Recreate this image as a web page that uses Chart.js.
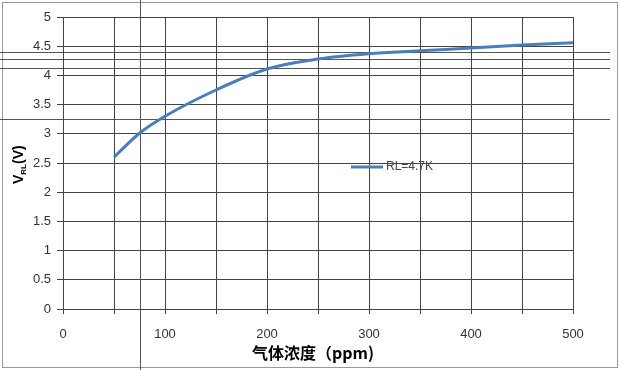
<!DOCTYPE html>
<html>
<head>
<meta charset="utf-8">
<script src="https://cdn.jsdelivr.net/npm/chart.js@4"></script>
<style>
  html, body { margin: 0; padding: 0; background: #fff; }
  #wrap { width: 620px; height: 370px; position: relative; }
</style>
</head>
<body>
<div id="wrap"><canvas id="chart" width="620" height="370"></canvas></div>
<script>
// gas concentration (ppm) vs output voltage
const concentration = [50, 75, 100, 150, 200, 250, 300, 350, 400, 450, 500];
const voltage = [2.6, 3.01, 3.3, 3.75, 4.11, 4.28, 4.37, 4.42, 4.47, 4.52, 4.56];
const seriesLabel = 'RL=4.7K';
const xTitle = '气体浓度（ppm)';

// stray scan lines (value space)
const strayH = [4.4, 4.28, 4.13, 3.25];
const strayV = [75];

const decorations = {
  id: 'decorations',
  beforeDraw(chart) {
    const { ctx, scales: { x, y } } = chart;
    ctx.save();
    ctx.fillStyle = '#fff';
    ctx.fillRect(0, 0, chart.width, chart.height);
    ctx.strokeStyle = '#999';
    ctx.lineWidth = 1;
    ctx.strokeRect(2.5, 2.5, chart.width - 5, chart.height - 5);
    ctx.strokeStyle = '#555';
    strayH.forEach(v => {
      const py = Math.round(y.getPixelForValue(v)) + 0.5;
      ctx.beginPath(); ctx.moveTo(0, py); ctx.lineTo(610, py); ctx.stroke();
    });
    strayV.forEach(v => {
      const px = Math.round(x.getPixelForValue(v)) + 0.5;
      ctx.beginPath(); ctx.moveTo(px, 0); ctx.lineTo(px, chart.height); ctx.stroke();
    });
    ctx.restore();
  },
  afterDraw(chart) {
    const { ctx } = chart;
    ctx.save();
    // y title with subscript
    ctx.translate(18, 184);
    ctx.rotate(-Math.PI / 2);
    ctx.fillStyle = '#000';
    ctx.textBaseline = 'alphabetic';
    ctx.font = 'bold 14px "Liberation Sans", Arial, sans-serif';
    ctx.fillText('V', 0, 5);
    let w = ctx.measureText('V').width;
    ctx.font = 'bold 8px "Liberation Sans", Arial, sans-serif';
    ctx.fillText('RL', w, 8);
    w += ctx.measureText('RL').width;
    ctx.font = 'bold 14px "Liberation Sans", Arial, sans-serif';
    ctx.fillText('(V)', w, 5);
    ctx.restore();

    // x title
    ctx.save();
    ctx.fillStyle = '#000';
    ctx.font = 'bold 16px "Noto Sans CJK SC", sans-serif';
    ctx.textBaseline = 'middle';
    ctx.fillText(xTitle, 252, 353);
    ctx.restore();

    // legend inside plot
    ctx.save();
    ctx.strokeStyle = '#4a7ebb';
    ctx.lineWidth = 3;
    ctx.beginPath(); ctx.moveTo(351, 167); ctx.lineTo(383, 167); ctx.stroke();
    ctx.fillStyle = '#444';
    ctx.font = '12px "Liberation Sans", Arial, sans-serif';
    ctx.textBaseline = 'middle';
    ctx.fillText(chart.data.datasets[0].label, 386, 167);
    ctx.restore();
  }
};

new Chart(document.getElementById('chart'), {
  type: 'line',
  data: {
    datasets: [{
      label: seriesLabel,
      data: concentration.map((c, i) => ({ x: c, y: voltage[i] })),
      borderColor: '#4a7ebb',
      borderWidth: 3,
      pointRadius: 0,
      cubicInterpolationMode: 'monotone',
      fill: false
    }]
  },
  options: {
    responsive: false,
    animation: false,
    layout: { padding: { top: 17, right: 47, bottom: 0, left: 0 } },
    plugins: { legend: { display: false }, tooltip: { enabled: false } },
    scales: {
      x: {
        type: 'linear', min: 0, max: 500,
        afterBuildTicks(s) { s.ticks = []; for (let v = 0; v <= 500; v += 50) s.ticks.push({ value: v }); },
        grid: { color: '#444', tickLength: 5, drawOnChartArea: true },
        border: { color: '#444' },
        ticks: {
          autoSkip: false, maxRotation: 0, padding: 13,
          color: '#333', font: { size: 13, family: '"Liberation Sans", Arial, sans-serif' },
          callback: v => (v % 100 === 0 ? v : '')
        },
        afterFit(s) { s.height = 61; }
      },
      y: {
        min: 0, max: 5,
        grid: { color: '#444', tickLength: 6 },
        border: { color: '#444' },
        ticks: {
          stepSize: 0.5, padding: 6, autoSkip: false,
          color: '#333', font: { size: 13, family: '"Liberation Sans", Arial, sans-serif' },
          callback: v => String(v)
        },
        afterFit(s) { s.width = 63; }
      }
    }
  },
  plugins: [decorations]
});
</script>
</body>
</html>
